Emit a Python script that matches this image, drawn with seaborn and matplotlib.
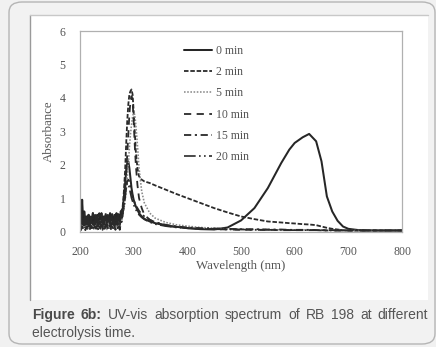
import matplotlib
matplotlib.use("Agg")
import matplotlib.pyplot as plt
import seaborn as sns
import pandas as pd
from matplotlib.patches import FancyBboxPatch, Rectangle
from matplotlib.lines import Line2D

# ---------------- data ----------------
noise_wl = [200, 202, 204, 206, 208, 210, 212, 214, 216, 218,
            220, 222, 224, 226, 228, 230, 232, 234, 236, 238,
            240, 242, 244, 246, 248, 250, 252, 254, 256, 258,
            260, 262, 264, 266, 268, 270, 272, 274, 276, 278]
band_wl = [281, 284, 286, 288, 290, 292, 294, 296, 298, 300, 302, 304, 307, 310,
           315, 320, 330, 340, 360, 380, 400, 425, 450, 475, 500, 525, 550, 575,
           590, 600, 615, 627, 640, 650, 660, 670, 680, 690, 700, 720, 750, 800]
wavelength = noise_wl + band_wl

series_names = ["0 min", "2 min", "5 min", "10 min", "15 min", "20 min"]

abs_0 = [1.0, 0.15, 0.95, 0.3, 0.6, 0.2, 0.45, 0.25, 0.5, 0.2,
         0.4, 0.3, 0.55, 0.2, 0.45, 0.3, 0.5, 0.25, 0.4, 0.35,
         0.55, 0.2, 0.45, 0.3, 0.5, 0.25, 0.45, 0.35, 0.55, 0.2,
         0.5, 0.3, 0.45, 0.25, 0.55, 0.3, 0.5, 0.25, 0.6, 0.4,
         0.9, 1.4, 1.8, 2.05, 2.1, 1.9, 1.6, 1.3, 1.1, 0.95, 0.85, 0.75, 0.65, 0.55,
         0.45, 0.38, 0.3, 0.25, 0.18, 0.14, 0.1, 0.07, 0.06, 0.12, 0.33, 0.7, 1.3, 2.05,
         2.45, 2.65, 2.82, 2.92, 2.7, 2.1, 1.05, 0.6, 0.32, 0.15, 0.08, 0.04, 0.03, 0.03]
abs_2 = [0.5, 0.05, 0.35, 0.1, 0.3, 0.12, 0.35, 0.08, 0.3, 0.15,
         0.4, 0.1, 0.3, 0.15, 0.35, 0.1, 0.4, 0.12, 0.3, 0.08,
         0.35, 0.15, 0.4, 0.1, 0.3, 0.12, 0.35, 0.1, 0.4, 0.15,
         0.3, 0.1, 0.35, 0.12, 0.4, 0.1, 0.3, 0.15, 0.45, 0.5,
         1.0, 1.8, 2.6, 3.3, 3.8, 4.1, 4.2, 4.25, 4.1, 3.6, 3.0, 2.4, 1.9, 1.65,
         1.55, 1.5, 1.45, 1.38, 1.25, 1.12, 1.0, 0.85, 0.7, 0.57, 0.45, 0.37, 0.3, 0.27,
         0.25, 0.24, 0.22, 0.21, 0.19, 0.15, 0.11, 0.08, 0.06, 0.04, 0.03, 0.03, 0.03, 0.03]
abs_5 = [0.3, 0.05, 0.2, 0.08, 0.25, 0.05, 0.2, 0.1, 0.25, 0.06,
         0.3, 0.08, 0.2, 0.05, 0.25, 0.1, 0.2, 0.06, 0.3, 0.08,
         0.25, 0.05, 0.2, 0.1, 0.3, 0.06, 0.25, 0.08, 0.2, 0.05,
         0.3, 0.1, 0.25, 0.06, 0.2, 0.08, 0.3, 0.1, 0.3, 0.35,
         0.6, 0.9, 1.2, 1.6, 2.0, 2.5, 2.9, 3.2, 3.45, 3.55, 3.5, 3.2, 2.6, 1.9,
         1.2, 0.85, 0.55, 0.4, 0.27, 0.2, 0.16, 0.12, 0.1, 0.08, 0.07, 0.06, 0.06, 0.05,
         0.05, 0.05, 0.05, 0.04, 0.04, 0.04, 0.04, 0.04, 0.03, 0.03, 0.03, 0.03, 0.03, 0.03]
abs_10 = [0.85, 0.2, 0.5, 0.25, 0.55, 0.2, 0.45, 0.3, 0.5, 0.15,
          0.45, 0.3, 0.55, 0.2, 0.5, 0.25, 0.45, 0.3, 0.55, 0.2,
          0.5, 0.3, 0.45, 0.2, 0.55, 0.25, 0.5, 0.3, 0.45, 0.2,
          0.55, 0.25, 0.5, 0.3, 0.45, 0.2, 0.55, 0.3, 0.6, 0.65,
          0.7, 1.2, 1.7, 2.3, 2.9, 3.5, 3.9, 4.05, 3.9, 3.3, 2.6, 2.0, 1.4, 1.0,
          0.7, 0.5, 0.35, 0.27, 0.18, 0.13, 0.1, 0.08, 0.07, 0.06, 0.05, 0.05, 0.05, 0.04,
          0.04, 0.04, 0.04, 0.04, 0.04, 0.04, 0.03, 0.03, 0.03, 0.03, 0.03, 0.03, 0.03, 0.03]
abs_15 = [0.6, 0.05, 0.15, 0.08, 0.2, 0.04, 0.15, 0.08, 0.2, 0.05,
          0.15, 0.1, 0.2, 0.05, 0.15, 0.08, 0.2, 0.04, 0.15, 0.1,
          0.2, 0.05, 0.15, 0.08, 0.2, 0.05, 0.15, 0.1, 0.2, 0.05,
          0.15, 0.08, 0.2, 0.05, 0.15, 0.1, 0.2, 0.05, 0.25, 0.3,
          0.7, 1.1, 1.35, 1.5, 1.55, 1.5, 1.35, 1.2, 1.05, 0.95, 0.85, 0.78, 0.7, 0.62,
          0.52, 0.45, 0.35, 0.28, 0.2, 0.15, 0.12, 0.1, 0.09, 0.08, 0.07, 0.07, 0.06, 0.06,
          0.05, 0.05, 0.05, 0.05, 0.04, 0.04, 0.04, 0.04, 0.04, 0.04, 0.03, 0.03, 0.03, 0.03]
abs_20 = [0.4, 0.1, 0.4, 0.2, 0.35, 0.15, 0.4, 0.2, 0.45, 0.1,
          0.35, 0.25, 0.4, 0.15, 0.35, 0.2, 0.45, 0.15, 0.3, 0.25,
          0.4, 0.1, 0.35, 0.2, 0.45, 0.15, 0.4, 0.25, 0.35, 0.15,
          0.45, 0.2, 0.35, 0.15, 0.4, 0.2, 0.45, 0.15, 0.45, 0.5,
          0.6, 1.0, 1.3, 1.45, 1.42, 1.3, 1.15, 1.0, 0.9, 0.8, 0.72, 0.65, 0.58, 0.5,
          0.42, 0.36, 0.28, 0.22, 0.16, 0.12, 0.1, 0.08, 0.07, 0.06, 0.06, 0.05, 0.05, 0.05,
          0.04, 0.04, 0.04, 0.04, 0.04, 0.03, 0.03, 0.03, 0.03, 0.03, 0.03, 0.03, 0.03, 0.03]

all_abs = [abs_0, abs_2, abs_5, abs_10, abs_15, abs_20]

x_ticks = [200, 300, 400, 500, 600, 700, 800]
y_ticks = [0, 1, 2, 3, 4, 5, 6]

caption_bold = "Figure 6b:"
caption_line1 = "UV-vis absorption spectrum of RB 198 at different"
caption_line2 = "electrolysis time."

# ---------------- style ----------------
frames = []
for name, vals in zip(series_names, all_abs):
    frames.append(pd.DataFrame({"Wavelength": wavelength, "Absorbance": vals, "Time": name}))
df = pd.concat(frames, ignore_index=True)

styles = {
    "0 min": dict(color="#262626", ls="-", lw=1.45),
    "2 min": dict(color="#2a2a2a", ls=(0, (2.5, 1)), lw=1.3),
    "5 min": dict(color="#8a8a8a", ls=(0, (1, 1)), lw=1.15),
    "10 min": dict(color="#2a2a2a", ls=(0, (4, 3)), lw=1.3),
    "15 min": dict(color="#2a2a2a", ls=(0, (4, 2, 1.2, 2)), lw=1.3),
    "20 min": dict(color="#2a2a2a", ls=(0, (7, 2, 1, 2, 1, 2)), lw=1.2),
}

sns.set_theme(style="white")
plt.rcParams["font.family"] = ["Liberation Serif", "DejaVu Serif"]

W, H = 436, 347
fig = plt.figure(figsize=(W / 100, H / 100), dpi=100)
fig.patch.set_facecolor("#f1f1f1")

def px(x0, y0, x1, y1):
    return (x0 / W, 1 - y1 / H, (x1 - x0) / W, (y1 - y0) / H)

# outer rounded border
bx, by, bw, bh = px(9, 2, 435, 344)
fig.patches.append(FancyBboxPatch((bx, by), bw, bh,
                                  boxstyle="round,pad=0,rounding_size=0.03",
                                  transform=fig.transFigure, facecolor="#f2f2f2",
                                  edgecolor="#b5b5b5", lw=1.0, zorder=-3))
# inner white panel
ix, iy, iw, ih = px(30, 15, 428, 300)
fig.patches.append(Rectangle((ix, iy), iw, ih, transform=fig.transFigure,
                             facecolor="white", edgecolor="none", zorder=-2))
fig.lines.append(Line2D([ix, ix], [iy, iy + ih], transform=fig.transFigure,
                        color="#9a9a9a", lw=1.0, zorder=-1))
fig.lines.append(Line2D([ix, ix + iw], [iy + ih, iy + ih], transform=fig.transFigure,
                        color="#c8c8c8", lw=1.0, zorder=-1))

ax = fig.add_axes(px(80, 31, 402, 231.5))
ax.set_facecolor("none")

for name in series_names:
    st = styles[name]
    sns.lineplot(data=df[df["Time"] == name], x="Wavelength", y="Absorbance",
                 ax=ax, color=st["color"], linestyle=st["ls"], linewidth=st["lw"],
                 estimator=None, sort=False, label=name)

ax.set_xlim(200, 800)
ax.set_ylim(0, 6)
ax.set_xticks(x_ticks)
ax.set_yticks(y_ticks)
ax.tick_params(axis="both", labelsize=8.5, colors="#9a9a9a", labelcolor="#555555",
               length=2.5, width=0.8, direction="out", pad=8)
ax.tick_params(axis="y", pad=8)
for s in ax.spines.values():
    s.set_color("#b0b0b0")
    s.set_linewidth(0.9)

ax.set_xlabel("Wavelength (nm)", fontsize=9.3, color="#555555")
ax.set_ylabel("Absorbance", fontsize=9.3, color="#555555")
ax.xaxis.set_label_coords(0.5, -0.14)
ax.yaxis.set_label_coords(-0.078, 0.5)

leg = ax.legend(loc="upper left", bbox_to_anchor=(0.323, 0.93), frameon=False,
                fontsize=8.5, handlelength=2.4, handletextpad=0.3,
                labelspacing=0.78, borderaxespad=0, borderpad=0)
for t in leg.get_texts():
    t.set_color("#555555")

# caption, line 1 justified between x=32 and x=428
cap_family = ["Liberation Sans", "DejaVu Sans"]
cap_size = 10.0
renderer = fig.canvas.get_renderer()
words = [(w, "bold", "#4a4a4a") for w in caption_bold.split()] + \
        [(w, "normal", "#555555") for w in caption_line1.split()]
texts = []
widths = []
for w, wt, c in words:
    t = fig.text(0, 1 - 315 / H, w, fontsize=cap_size, fontweight=wt, color=c,
                 family=cap_family, va="center", ha="left")
    texts.append(t)
    widths.append(t.get_window_extent(renderer).width)
x0, x1 = 32.0, 428.0
gap = (x1 - x0 - sum(widths)) / (len(words) - 1)
gap = max(gap, 2.5)
x = x0
for t, wd in zip(texts, widths):
    t.set_x(x / W)
    x += wd + gap
fig.text(32 / W, 1 - 333 / H, caption_line2, fontsize=cap_size, color="#555555",
         family=cap_family, va="center", ha="left")

fig.savefig("out.png", dpi=100, facecolor=fig.get_facecolor())
